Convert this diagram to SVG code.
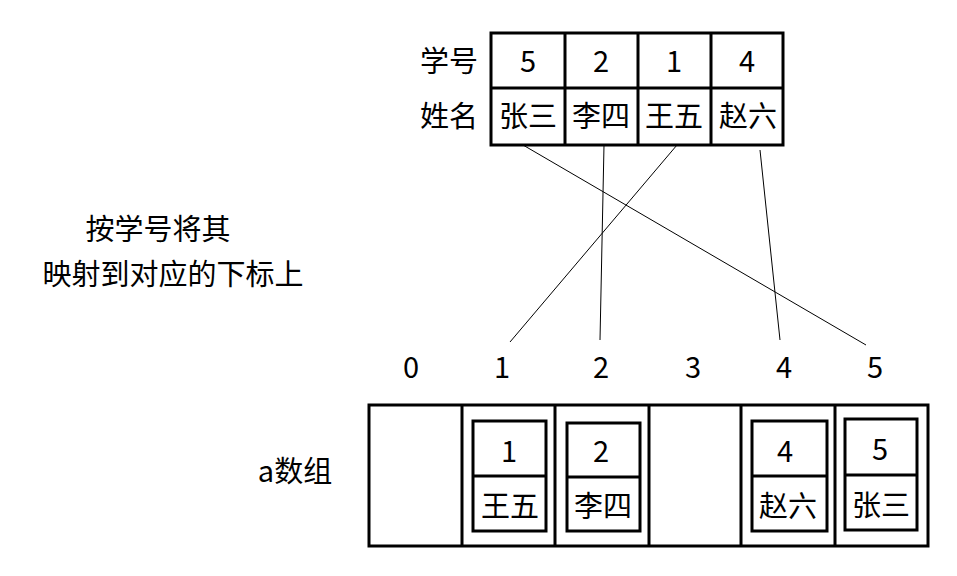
<svg xmlns="http://www.w3.org/2000/svg" width="957" height="576" viewBox="0 0 957 576">
<style>
text{font-family:"Noto Sans CJK SC","Noto Sans",sans-serif;font-size:29px;fill:#000;text-anchor:middle}
.b{fill:none;stroke:#000;stroke-width:3}
.c{stroke:#000;stroke-width:1;fill:none}
</style>
<rect width="957" height="576" fill="#fff"/>
<g id="top-table">
<rect class="b" x="491" y="33" width="292" height="112"/>
<path class="b" d="M565 33V145M638 33V145M711 33V145M491 88H783"/>
<text x="449" y="72">学号</text><text x="449" y="127">姓名</text>
<text x="528" y="72">5</text><text x="601" y="72">2</text><text x="674" y="72">1</text><text x="747" y="72">4</text>
<text x="528" y="127">张三</text><text x="601" y="127">李四</text><text x="674" y="127">王五</text><text x="748" y="127">赵六</text>
</g>
<g id="caption">
<text x="158" y="240" font-size="27">按学号将其</text>
<text x="173" y="285" font-size="27">映射到对应的下标上</text>
<text x="295" y="482" font-size="27">a数组</text>
</g>
<g id="indices">
<text x="411" y="378">0</text><text x="502" y="378">1</text><text x="601" y="378">2</text><text x="693" y="378">3</text><text x="784" y="378">4</text><text x="875" y="378">5</text>
</g>
<g id="array">
<rect class="b" x="369" y="405" width="559" height="141"/>
<path class="b" d="M462 405V546M555 405V546M649 405V546M741 405V546M835 405V546"/>
</g>
<g id="cell1"><rect class="b" x="473" y="421" width="73" height="110"/><path class="b" d="M473 476H546"/><text x="509" y="462">1</text><text x="510" y="517">王五</text></g>
<g id="cell2"><rect class="b" x="567" y="423" width="73" height="108"/><path class="b" d="M567 477H640"/><text x="601" y="462">2</text><text x="603" y="517">李四</text></g>
<g id="cell4"><rect class="b" x="752" y="421" width="75" height="110"/><path class="b" d="M752 476H827"/><text x="785" y="462">4</text><text x="788" y="517">赵六</text></g>
<g id="cell5"><rect class="b" x="845" y="419" width="72" height="111"/><path class="b" d="M845 475H917"/><text x="880" y="460">5</text><text x="881" y="516">张三</text></g>
<g id="connectors">
<path class="c" d="M523 145L866 345"/>
<path class="c" d="M604 145L600 340"/>
<path class="c" d="M677 145L510 342"/>
<path class="c" d="M760 150L780 340"/>
</g>
</svg>
